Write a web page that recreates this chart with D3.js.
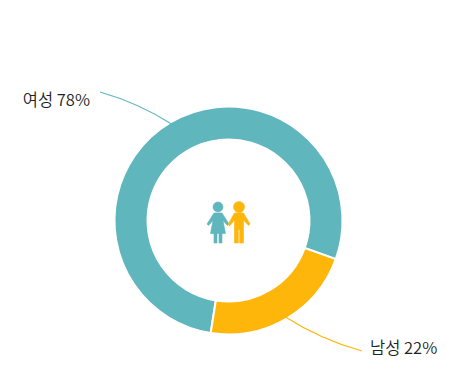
<!DOCTYPE html>
<html>
<head>
<meta charset="utf-8">
<script src="https://cdn.jsdelivr.net/npm/d3@7"></script>
<style>
    html, body { margin: 0; padding: 0; background: #fff; }
    text { font-family: "Noto Sans CJK KR", sans-serif; font-size: 16.5px; font-weight: 350; fill: #222; }
</style>
</head>
<body>
<div id="chart"></div>
<script>
const categories = ["여성", "남성"];
const shares = [78, 22];
const colors = ["#60b6bd", "#ffb60a"];

const width = 458, height = 389;
const cx = 228.5, cy = 220.5;
const outerRadius = 114, innerRadius = 81;
const startDeg = 189;

// where each leader ends, relative to the ring centre
const leaderEnd = [[-128.5, -128.5], [133.5, 130.5]];
const labelAnchor = ["end", "start"];
const labelGap = [-10, 8];
const labelDrop = [8, -3];

const svg = d3.select("#chart").append("svg")
    .attr("width", width)
    .attr("height", height)
    .style("display", "block");

const g = svg.append("g")
    .attr("transform", `translate(${cx}, ${cy})`);

const pie = d3.pie()
    .sort(null)
    .startAngle(startDeg * Math.PI / 180)
    .endAngle((startDeg + 360) * Math.PI / 180);

const arc = d3.arc()
    .outerRadius(outerRadius)
    .innerRadius(innerRadius);

const slices = pie(shares);

g.selectAll(".slice")
    .data(slices)
    .enter().append("path")
    .attr("class", "slice")
    .attr("d", arc)
    .style("fill", (d, i) => colors[i])
    .style("stroke", "#fff")
    .style("stroke-width", "2px");

// curved leaders from the middle of each slice out to its label
g.selectAll(".leader")
    .data(slices)
    .enter().append("path")
    .attr("class", "leader")
    .attr("d", (d, i) => {
        const mid = (d.startAngle + d.endAngle) / 2;
        const x0 = Math.sin(mid) * (outerRadius - 2);
        const y0 = -Math.cos(mid) * (outerRadius - 2);
        const [x1, y1] = leaderEnd[i];
        const ctrlX = x0 + (x1 - x0) * 0.45;
        const ctrlY = y0 + (y1 - y0) * 0.65;
        return `M${x0},${y0}Q${ctrlX},${ctrlY} ${x1},${y1}`;
    })
    .style("fill", "none")
    .style("stroke", (d, i) => colors[i])
    .style("stroke-width", "1.2px");

g.selectAll(".label")
    .data(slices)
    .enter().append("text")
    .attr("class", "label")
    .attr("x", (d, i) => leaderEnd[i][0] + labelGap[i])
    .attr("y", (d, i) => leaderEnd[i][1] + labelDrop[i])
    .attr("dy", ".35em")
    .attr("text-anchor", (d, i) => labelAnchor[i])
    .text((d, i) => `${categories[i]} ${shares[i]}%`);

// the two figures in the hole
const woman = "M-15.5,-13.5a5,5 0 1,1 10,0a5,5 0 1,1 -10,0Z"
    + "M-14.5,-7.5L-6.5,-7.5L0.5,3.5L-1,5L-5.5,0L-3,13L-6.5,13L-6.5,22.5L-9.5,22.5L-9.5,13L-11.5,13L-11.5,22.5L-14.5,22.5L-14.5,13L-18,13L-15.5,0L-20,5L-21.5,3.5Z";
const man = "M5,-13.5a5.5,5.5 0 1,1 11,0a5.5,5.5 0 1,1 -11,0Z"
    + "M6,-7.5L15,-7.5L21.5,3.5L20,5L15,-0.5L15,22.5L11.2,22.5L11.2,9L9.8,9L9.8,22.5L6,22.5L6,-0.5L1,5.5L-0.5,4Z";

const icon = g.append("g");
icon.append("path").attr("d", woman)
    .style("fill", colors[0]).style("stroke", colors[0])
    .style("stroke-width", "0.6px").style("stroke-linejoin", "round");
icon.append("path").attr("d", man)
    .style("fill", colors[1]).style("stroke", colors[1])
    .style("stroke-width", "0.6px").style("stroke-linejoin", "round");
</script>
</body>
</html>
